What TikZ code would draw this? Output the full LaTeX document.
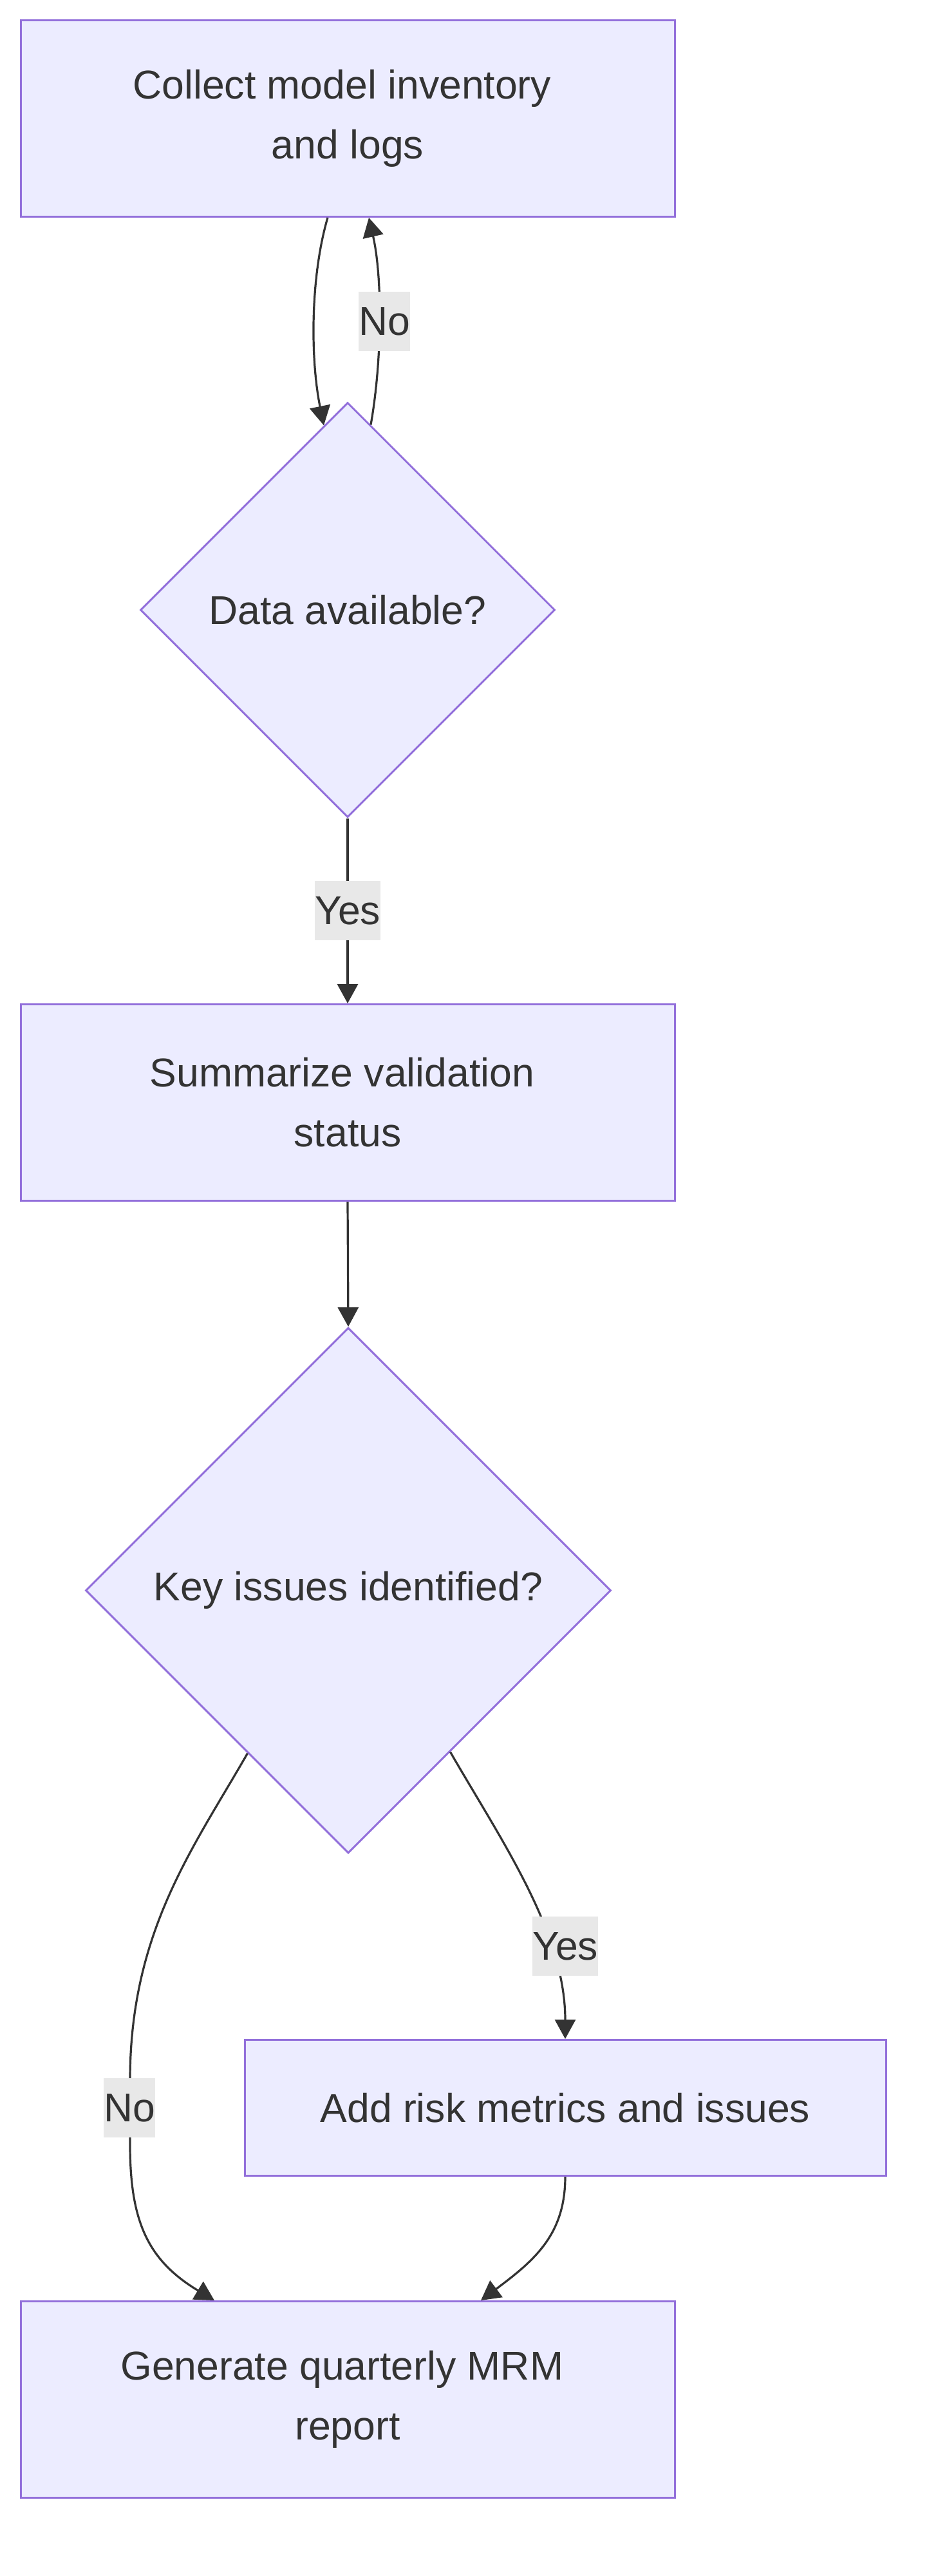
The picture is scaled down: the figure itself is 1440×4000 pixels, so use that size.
\documentclass[tikz,border=0pt]{standalone}
\usepackage{fontspec}
\setmainfont{Liberation Sans}
\usetikzlibrary{arrows.meta,shapes.geometric,calc}
\definecolor{nodefill}{HTML}{ECECFF}
\definecolor{nodeline}{HTML}{9370DB}
\definecolor{ink}{HTML}{333333}
\definecolor{lblbg}{HTML}{E8E8E8}
\newcommand{\trsp}{\hspace*{0.278em}}
\begin{document}
\begin{tikzpicture}[x=0.5pt,y=-0.5pt,
  font=\fontsize{31.25}{46.5}\selectfont,
  boxnode/.style={draw=nodeline,fill=nodefill,line width=1.5pt,text=ink,align=center,inner sep=0pt},
  decnode/.style={diamond,aspect=1,draw=nodeline,fill=nodefill,line width=1.5pt,text=ink,inner sep=0pt},
  lbl/.style={fill=lblbg,text=ink,inner xsep=0pt,inner ysep=0pt,minimum height=46pt},
  flow/.style={draw=ink,line width=1.6pt,-{Triangle[width=16pt,length=15pt]}},
]
\useasboundingbox (0,0) rectangle (1440,4000);

\node[boxnode,minimum width=508pt,minimum height=152.5pt] (b1) at (540,184) {Collect model inventory\trsp\\and logs};
\node[decnode,minimum width=322pt,minimum height=322pt] (d1) at (540,947) {Data available?};
\node[boxnode,minimum width=508pt,minimum height=152.5pt] (b2) at (540,1712) {Summarize validation\trsp\\status};
\node[decnode,minimum width=408pt,minimum height=408pt] (d2) at (541,2469.5) {Key issues identified?};
\node[boxnode,minimum width=498pt,minimum height=105.5pt] (b3) at (878,3273) {Add risk metrics and issues};
\node[boxnode,minimum width=508pt,minimum height=152.5pt] (b4) at (540,3726) {Generate quarterly MRM\trsp\\report};

% edges
\draw[flow] ($(b1.south)+(-31,0)$) .. controls (482,430) and (482,557) .. ($(d1.north)+(-37,37)$);
\draw[flow] ($(d1.north)+(36,36)$) .. controls (594,557) and (594,430) .. ($(b1.south)+(33,0)$);
\draw[flow] (d1.south) -- (b2.north);
\draw[flow] (b2.south) -- (d2.north);
\draw[flow] ($(d2.west)+(253,253)$) .. controls (300,2870) and (202,3000) .. (202,3230)
  -- (202,3330) .. controls (202,3450) and (230,3510) .. ($(b4.north)+(-207,0)$);
\draw[flow] ($(d2.east)+(-251,251)$) .. controls (780,2860) and (878,3000) .. (b3.north);
\draw[flow] (b3.south) .. controls (878,3470) and (830,3510) .. ($(b4.north)+(207,0)$);

% labels
\node[lbl] (l1) at (597,499) {No};
\node[lbl] (l2) at (540,1414) {Yes};
\node[lbl] (l3) at (201,3273) {No};
\node[lbl] (l4) at (878,3022) {Yes};
\end{tikzpicture}
\end{document}
